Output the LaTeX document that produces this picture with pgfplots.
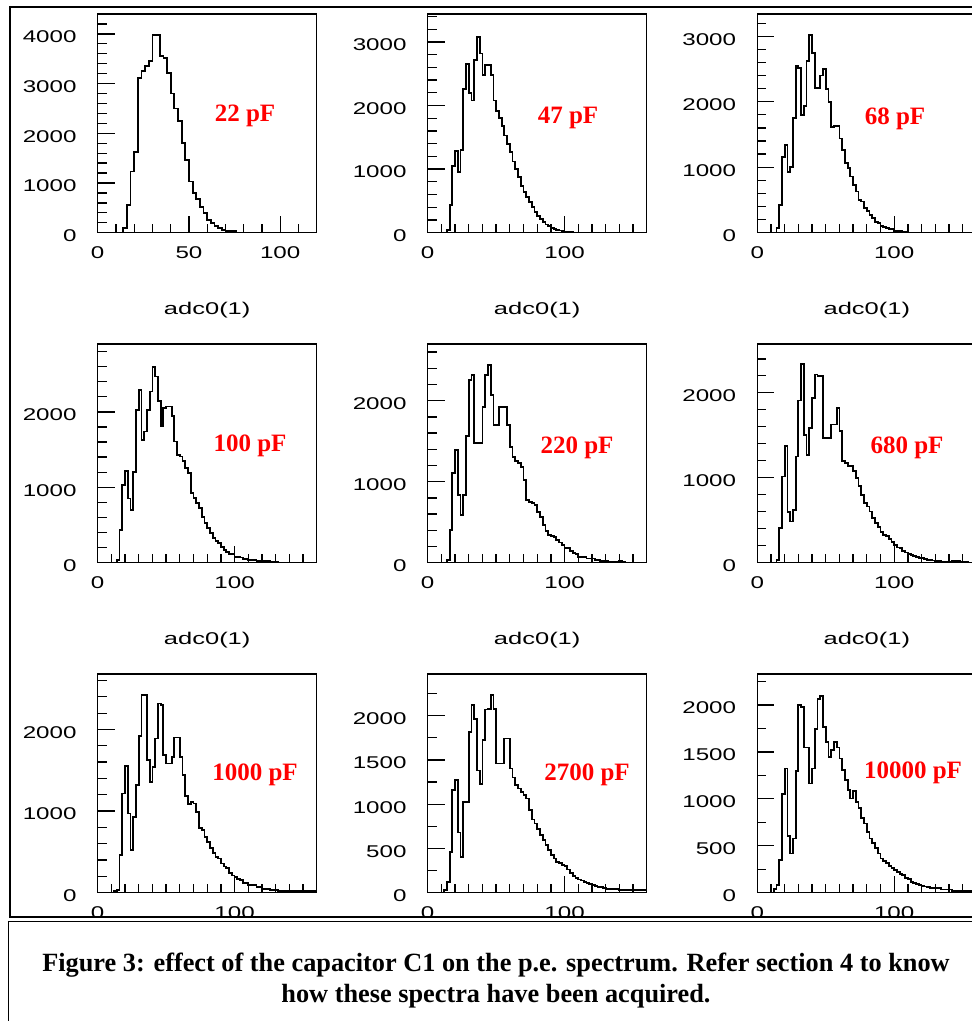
\documentclass[border=0pt]{standalone}
\usepackage{fontspec}
\setmainfont{Liberation Serif}
\newfontfamily\pawfont{Liberation Sans}[FakeStretch=1.42]
\newfontfamily\pawlabfont{Liberation Sans}[FakeStretch=1.5]
\usepackage{pgfplots}
\pgfplotsset{compat=1.18}
\newcommand\paw{\pawfont\fontsize{17}{20}\selectfont}
\newcommand\pawlab{\pawlabfont\fontsize{17}{20}\selectfont}
\newcommand\redlab{\bfseries\fontsize{25}{28}\selectfont}
\pgfplotsset{
  paw/.style={
    scale only axis, width=219pt, height=218.7pt,
    anchor=south west,
    xmin=0, ymin=0,
    axis line style={line width=1.3pt, black},
    tick align=inside, tick pos=left,
    major tick length=17pt, minor tick length=9pt,
    tick style={line width=1.3pt, black},
    xticklabel={\pgfmathtruncatemacro\tv{\tick}\tv},
    yticklabel={\pgfmathtruncatemacro\tv{\tick}\tv},
    ticklabel style={font=\paw},
    xticklabel style={anchor=north, inner sep=0pt, yshift=-14pt},
    yticklabel style={anchor=east, inner sep=0pt, xshift=-21pt, yshift=-3pt},
    xlabel style={font=\pawlab, at={(axis description cs:0.5,0)}, anchor=center, yshift=-77pt},
  },
  hist/.style={const plot mark left, mark=none, black, line width=1.8pt},
  wide/.style={xmax=160, xtick={0,100}, minor xtick={10,20,...,150}},
}
\begin{document}
\begin{tikzpicture}[x=1pt,y=1pt]
\path[use as bounding box] (0,0) rectangle (972,1021);
\fill[white] (0,0) rectangle (972,1021);
\clip (0,0) rectangle (972,1021);
% ---------- row 1 ----------
\begin{axis}[paw, at={(97.7pt,788.3pt)}, xmax=120, xtick={0,50,100}, minor xtick={10,20,...,110},
  ymax=4400, ytick={0,1000,2000,3000,4000}, minor ytick={200,400,...,4200}, xlabel={adc0(1)}]
\addplot[hist] coordinates {(14,0)(14,90)(16,560)(18,1230)(20,1630)(22,3110)(24,3260)(26,3360)(28,3460)(30,3980)(32,3980)(34,3560)(36,3510)(38,3220)(40,2800)(42,2500)(44,2240)(46,1800)(48,1460)(50,1030)(52,800)(54,670)(56,520)(58,390)(60,255)(62,190)(64,135)(66,90)(68,55)(70,27)(72,27)(74,27)(76,0)};
\end{axis}
\begin{axis}[paw, wide, at={(427.7pt,788.3pt)},
  ymax=3440, ytick={0,1000,2000,3000}, minor ytick={200,400,...,3400}, xlabel={adc0(1)}]
\addplot[hist] coordinates {(14,0)(14,40)(16,440)(18,1050)(20,1280)(22,960)(24,1300)(26,2260)(28,2650)(30,2200)(32,2080)(34,2720)(36,3080)(38,2820)(40,2480)(42,2640)(44,2640)(46,2480)(48,2080)(50,1920)(52,1800)(54,1680)(56,1530)(58,1400)(60,1270)(62,1120)(64,1000)(66,880)(68,740)(70,640)(72,560)(74,480)(76,400)(78,320)(80,260)(82,210)(84,170)(86,130)(88,100)(90,80)(92,60)(94,45)(96,35)(98,25)(100,20)(102,15)(104,10)(106,0)};
\end{axis}
\begin{axis}[paw, wide, at={(757.3pt,788.3pt)},
  ymax=3340, ytick={0,1000,2000,3000}, minor ytick={200,400,...,3200}, xlabel={adc0(1)}]
\addplot[hist] coordinates {(14,0)(14,70)(16,420)(18,1160)(20,1340)(22,930)(24,1000)(26,1750)(28,2540)(30,2515)(32,1800)(34,1930)(36,2620)(38,3020)(40,2745)(42,2210)(44,2210)(46,2400)(48,2500)(50,2200)(52,2000)(54,1620)(56,1630)(58,1630)(60,1440)(62,1265)(64,1060)(66,985)(68,857)(70,730)(72,628)(74,500)(76,475)(78,372)(80,337)(82,270)(84,220)(86,168)(88,143)(90,107)(92,90)(94,77)(96,60)(98,51)(100,31)(102,31)(104,31)(106,15)(108,15)(110,0)};
\end{axis}
% ---------- row 2 ----------
\begin{axis}[paw, wide, at={(97.7pt,458.3pt)},
  ymax=2900, ytick={0,1000,2000}, minor ytick={200,400,...,2800}, xlabel={adc0(1)}]
\addplot[hist] coordinates {(14,0)(14,35)(16,430)(18,1030)(20,1220)(22,850)(24,700)(26,1200)(28,2030)(30,2290)(32,1630)(34,1740)(36,2030)(38,2270)(40,2600)(42,2470)(44,2140)(46,1805)(48,2050)(50,2070)(52,2070)(54,1950)(56,1606)(58,1429)(60,1407)(62,1350)(64,1252)(66,1186)(68,920)(70,854)(72,788)(74,721)(76,611)(78,522)(80,456)(82,389)(84,323)(86,290)(88,257)(90,212)(92,168)(94,137)(96,115)(98,115)(100,80)(102,80)(104,70)(106,53)(108,53)(110,35)(112,35)(114,35)(116,27)(118,27)(120,27)(122,18)(124,18)(126,13)(128,13)(130,13)(132,0)};
\end{axis}
\begin{axis}[paw, wide, at={(427.7pt,458.3pt)},
  ymax=2700, ytick={0,1000,2000}, minor ytick={200,400,...,2600}, xlabel={adc0(1)}]
\addplot[hist] coordinates {(14,0)(14,33)(16,400)(18,1110)(20,1390)(22,835)(24,590)(26,840)(28,1560)(30,2255)(32,2317)(34,1473)(36,1473)(38,1473)(40,1926)(42,2317)(44,2440)(46,2070)(48,1700)(50,1700)(52,1918)(54,1918)(56,1918)(58,1700)(60,1432)(62,1309)(64,1259)(66,1226)(68,1185)(70,1020)(72,774)(74,753)(76,740)(78,712)(80,630)(82,568)(84,465)(86,391)(88,342)(90,330)(92,313)(94,280)(96,250)(98,218)(100,177)(102,177)(104,144)(106,120)(108,103)(110,74)(112,74)(114,74)(116,53)(118,53)(120,53)(122,33)(124,33)(126,21)(128,21)(130,21)(132,12)(134,12)(136,12)(138,12)(140,21)(142,12)(144,0)};
\end{axis}
\begin{axis}[paw, wide, at={(757.3pt,458.3pt)},
  ymax=2575, ytick={0,1000,2000}, minor ytick={200,400,...,2400}, xlabel={adc0(1)}]
\addplot[hist] coordinates {(14,0)(14,31)(16,405)(18,1016)(20,1370)(22,600)(24,484)(26,622)(28,1250)(30,1910)(32,2335)(34,1500)(36,1272)(38,1587)(40,1940)(42,2217)(44,2200)(46,2197)(48,1470)(50,1469)(52,1469)(54,1626)(56,1626)(58,1823)(60,1547)(62,1193)(64,1173)(66,1134)(68,1134)(70,1075)(72,996)(74,900)(76,800)(78,700)(80,661)(82,602)(84,524)(86,465)(88,417)(90,366)(92,330)(94,315)(96,276)(98,240)(100,209)(102,180)(104,169)(106,138)(108,120)(110,102)(112,90)(114,79)(116,70)(118,60)(120,51)(122,45)(124,31)(126,31)(128,25)(130,20)(132,20)(134,15)(136,12)(138,12)(140,12)(142,20)(144,20)(146,24)(148,8)(150,8)(152,8)(154,0)};
\end{axis}
% ---------- row 3 ----------
\begin{axis}[paw, wide, at={(97.7pt,128.3pt)},
  ymax=2680, ytick={0,1000,2000}, minor ytick={200,400,...,2600}]
\addplot[hist] coordinates {(12,0)(12,20)(14,33)(16,460)(18,1216)(20,1550)(22,971)(24,522)(26,930)(28,1318)(30,1918)(32,2420)(34,2420)(36,1624)(38,1360)(40,1543)(42,1890)(44,2318)(46,2298)(48,1686)(50,1584)(52,1584)(54,1665)(56,1902)(58,1902)(60,1665)(62,1441)(64,1184)(66,1086)(68,1114)(70,1094)(72,992)(74,788)(76,767)(78,686)(80,624)(82,543)(84,482)(86,440)(88,420)(90,359)(92,320)(94,298)(96,237)(98,210)(100,188)(102,170)(104,155)(106,122)(108,122)(110,94)(112,94)(114,94)(116,65)(118,65)(120,49)(122,49)(124,49)(126,33)(128,33)(130,33)(132,24)(134,22)(140,22)(150,22)(158,22)(160,22)};
\end{axis}
\begin{axis}[paw, wide, at={(427.7pt,128.3pt)},
  ymax=2470, ytick={0,500,1000,1500,2000}, minor ytick={250,750,...,2250}]
\addplot[hist] coordinates {(12,0)(12,30)(14,124)(16,462)(18,1158)(20,1270)(22,680)(24,406)(26,1026)(28,1026)(30,1816)(32,2117)(34,1966)(36,1380)(38,1226)(40,1722)(42,2068)(44,2079)(46,2230)(48,2079)(50,1459)(52,1459)(54,1459)(56,1741)(58,1741)(60,1402)(62,1300)(64,1214)(66,1177)(68,1140)(70,1100)(72,1064)(74,932)(76,827)(78,782)(80,720)(82,650)(84,594)(86,538)(88,481)(90,425)(92,387)(94,350)(96,331)(98,315)(100,301)(102,263)(104,218)(106,188)(108,170)(110,150)(112,137)(114,124)(116,110)(118,98)(120,90)(122,80)(124,68)(126,60)(128,55)(130,45)(140,30)(150,30)(160,30)};
\end{axis}
\begin{axis}[paw, wide, at={(757.3pt,128.3pt)},
  ymax=2330, ytick={0,500,1000,1500,2000}, minor ytick={250,750,...,2250}]
\addplot[hist] coordinates {(12,0)(12,40)(14,82)(16,348)(18,1050)(20,1323)(22,600)(24,418)(26,578)(28,1300)(30,1996)(32,1980)(34,1546)(36,1546)(38,1163)(40,1323)(42,1748)(44,2067)(46,2092)(48,1766)(50,1606)(52,1447)(54,1518)(56,1606)(58,1546)(60,1429)(62,1305)(64,1200)(66,1092)(68,1004)(70,1085)(72,968)(74,900)(76,800)(78,738)(80,649)(82,578)(84,532)(86,472)(88,418)(90,365)(92,340)(94,319)(96,284)(98,259)(100,240)(102,220)(104,200)(106,188)(108,160)(110,142)(112,117)(114,105)(116,92)(118,80)(120,71)(122,65)(124,60)(126,53)(134,35)(142,18)(150,18)(160,18)};
\end{axis}
% ---------- cover, frame, caption ----------
\fill[white] (-5,-5) rectangle (980,104.5);
\draw[line width=2.2pt] (9,1014.2) -- (980,1014.2);
\draw[line width=2pt] (10,1015) -- (10,104);
\draw[line width=2pt] (9,104) -- (980,104);
\draw[line width=1.5pt] (7.75,99.3) -- (980,99.3);
\draw[line width=1.5pt] (8.5,100) -- (8.5,-5);
\node[font=\bfseries\fontsize{26.3}{30}\selectfont, anchor=base] at (496,49) {Figure 3: effect of the capacitor C1 on the p.e. spectrum. Refer section 4 to know};
\node[font=\bfseries\fontsize{26.3}{30}\selectfont, anchor=base] at (496,19) {how these spectra have been acquired.};
% ---------- red labels ----------
\node[font=\redlab, text=red] at (245,905) {22 pF};
\node[font=\redlab, text=red] at (568,903) {47 pF};
\node[font=\redlab, text=red] at (895,902) {68 pF};
\node[font=\redlab, text=red] at (250,575) {100 pF};
\node[font=\redlab, text=red] at (577,573) {220 pF};
\node[font=\redlab, text=red] at (907,573) {680 pF};
\node[font=\redlab, text=red] at (255,246) {1000 pF};
\node[font=\redlab, text=red] at (587,246) {2700 pF};
\node[font=\redlab, text=red] at (913,248) {10000 pF};
\end{tikzpicture}
\end{document}
